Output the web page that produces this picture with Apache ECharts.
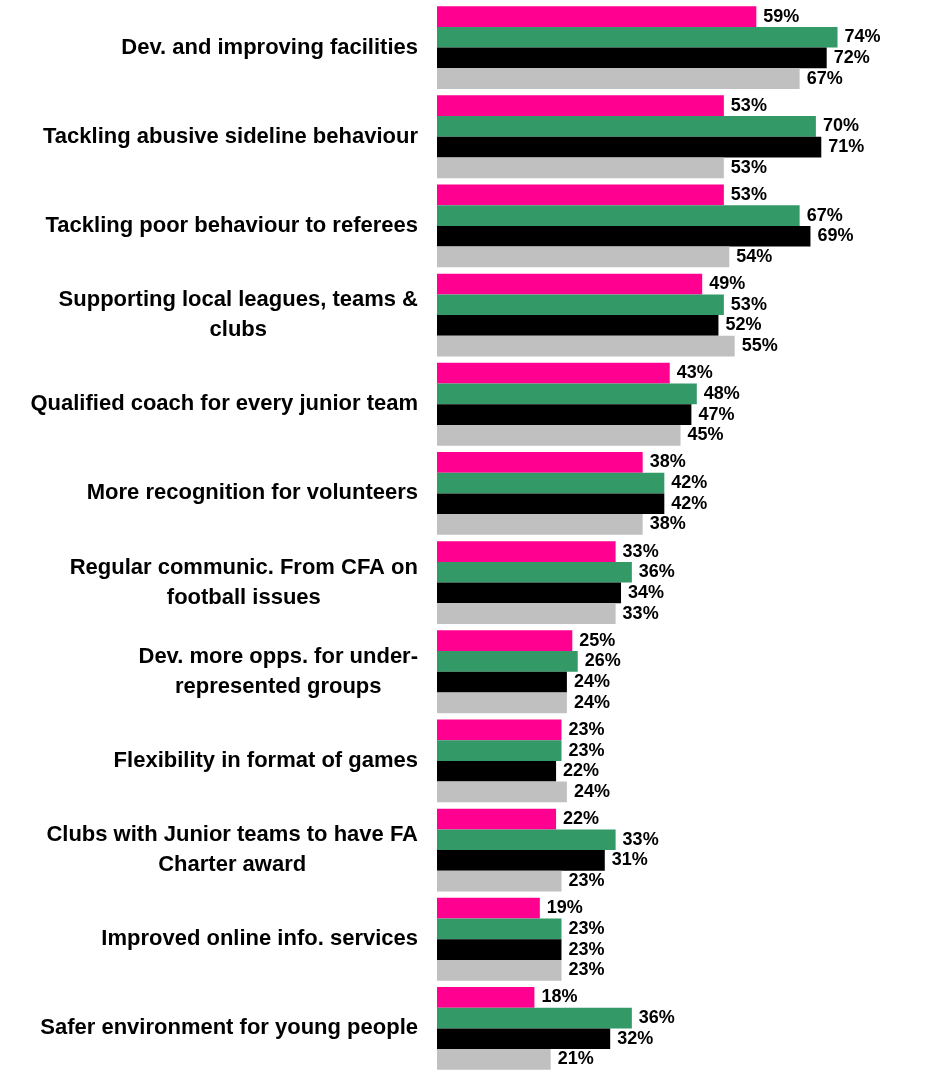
<!DOCTYPE html>
<html>
<head>
<meta charset="utf-8">
<script src="https://cdn.jsdelivr.net/npm/echarts@6/dist/echarts.min.js"></script>
<style>
  html, body { margin: 0; padding: 0; background: #fff; }
  #chart { width: 926px; height: 1073px; }
</style>
</head>
<body>
<div id="chart"></div>
<script>
const categories = [
  "Dev. and improving facilities",
  "Tackling abusive sideline behaviour",
  "Tackling poor behaviour to referees",
  "Supporting local leagues, teams &\nclubs",
  "Qualified coach for every junior team",
  "More recognition for volunteers",
  "Regular communic. From CFA on\nfootball issues",
  "Dev. more opps. for under-\nrepresented groups",
  "Flexibility in format of games",
  "Clubs with Junior teams to have FA\nCharter award",
  "Improved online info. services",
  "Safer environment for young people"
];
const pinkValues = [59, 53, 53, 49, 43, 38, 33, 25, 23, 22, 19, 18];
const greenValues = [74, 70, 67, 53, 48, 42, 36, 26, 23, 33, 23, 36];
const blackValues = [72, 71, 69, 52, 47, 42, 34, 24, 22, 31, 23, 32];
const greyValues = [67, 53, 54, 55, 45, 38, 33, 24, 24, 23, 23, 21];

const colors = ["#ff0090", "#339966", "#000000", "#c0c0c0"];
const font = "'Liberation Sans', Arial, sans-serif";

const makeSeries = (name, data, color) => ({
  name: name,
  type: "bar",
  data: data,
  barWidth: 20.7,
  barGap: "0%",
  itemStyle: { color: color },
  label: {
    show: true,
    position: "right",
    distance: 7,
    formatter: "{c}%",
    color: "#000",
    fontFamily: font,
    fontWeight: "bold",
    fontSize: 18
  }
});

const chart = echarts.init(document.getElementById("chart"));
chart.setOption({
  animation: false,
  grid: { left: 437, top: 3, width: 433, height: 1075 },
  xAxis: {
    type: "value",
    min: 0,
    max: 80,
    show: false
  },
  yAxis: {
    type: "category",
    inverse: true,
    data: categories,
    axisLine: { show: false },
    axisTick: { show: false },
    axisLabel: {
      margin: 19,
      fontFamily: font,
      fontWeight: "bold",
      fontSize: 22,
      color: "#000",
      lineHeight: 30,
      formatter: (v) => "{a|" + v.split("\n").join("}\n{a|") + "}",
      rich: {
        a: {
          align: "center",
          fontFamily: font,
          fontWeight: "bold",
          fontSize: 22,
          lineHeight: 30,
          color: "#000"
        }
      }
    }
  },
  series: [
    makeSeries("a", pinkValues, colors[0]),
    makeSeries("b", greenValues, colors[1]),
    makeSeries("c", blackValues, colors[2]),
    makeSeries("d", greyValues, colors[3])
  ]
});
</script>
</body>
</html>
